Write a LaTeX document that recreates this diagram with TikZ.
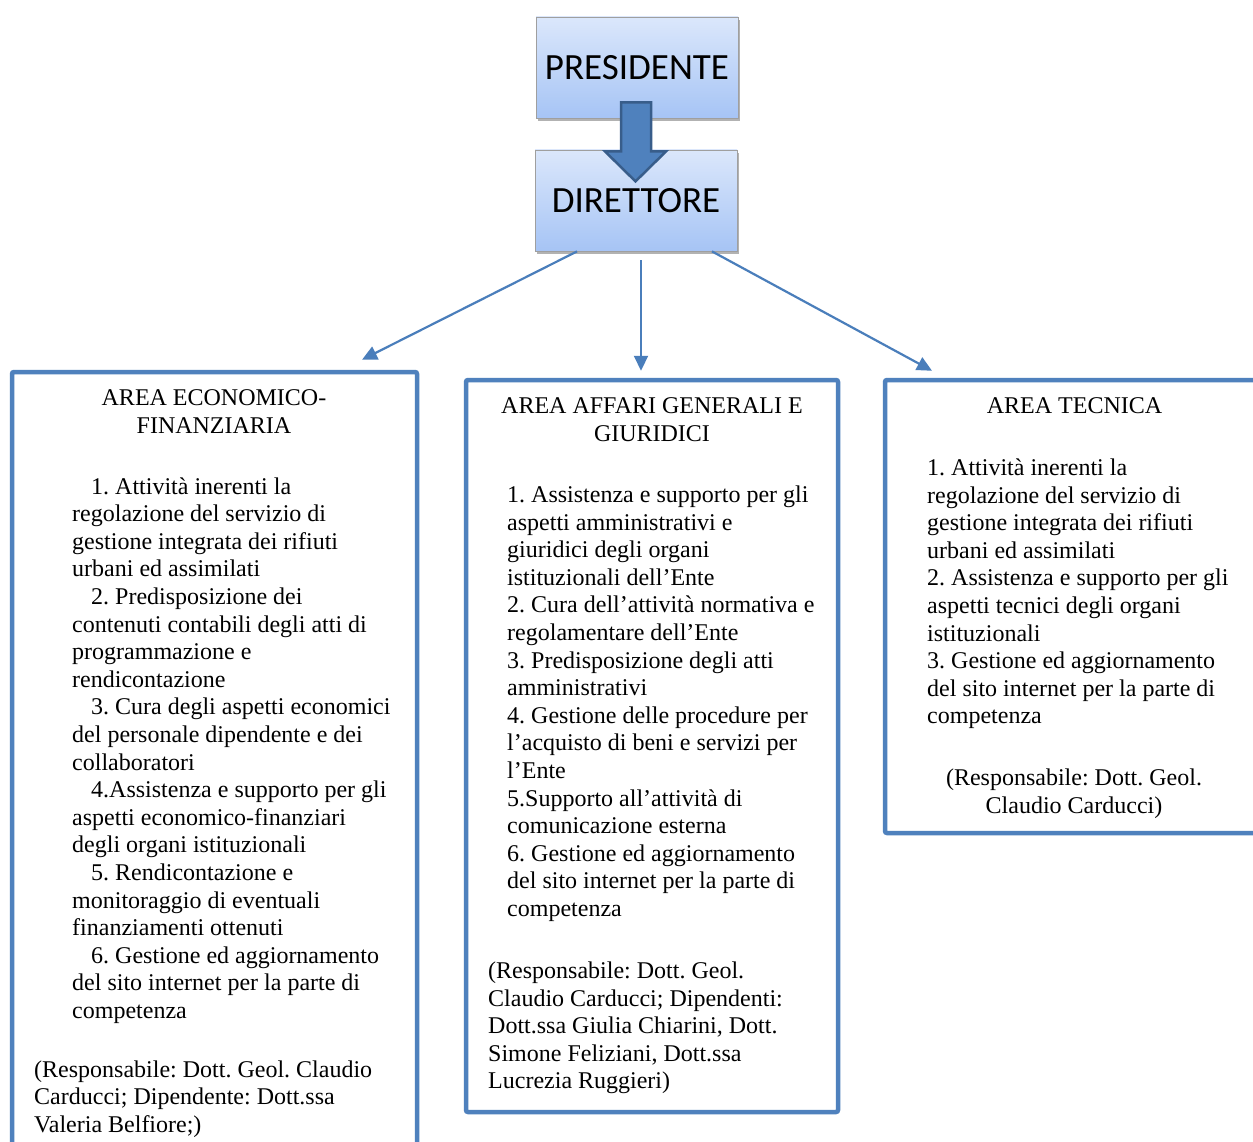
\documentclass[tikz,border=0pt]{standalone}
\usepackage{fontspec}
\setmainfont{Liberation Serif}
\newfontfamily\calib{Carlito}
\usetikzlibrary{arrows.meta,shadows,calc}
\definecolor{areablue}{RGB}{79,129,189}
\definecolor{linkblue}{RGB}{74,126,187}
\definecolor{arrowedge}{RGB}{56,93,138}
\definecolor{topc}{RGB}{219,231,251}
\definecolor{botc}{RGB}{166,196,245}
\frenchspacing
\newcommand{\llines}[1]{\begin{tabular}[t]{@{}l@{}}#1\end{tabular}}
\newcommand{\clines}[1]{\begin{tabular}[t]{@{}c@{}}#1\end{tabular}}
\begin{document}
\begin{tikzpicture}[x=1pt,y=-1pt,
  topbox/.style={draw=gray!75, line width=0.8pt, top color=topc, bottom color=botc,
    minimum width=202pt, minimum height=101pt, inner sep=0pt,
    font=\calib\fontsize{37}{40}\selectfont,
    drop shadow={shadow xshift=2pt,shadow yshift=-3pt,opacity=0.3,fill=black}},
  areabox/.style={draw=areablue, line width=4.5pt, rounded corners=2pt, inner sep=0pt},
  txt/.style={inner sep=0pt, font=\fontsize{24}{27.6}\selectfont\frenchspacing},
  link/.style={draw=linkblue, line width=2.2pt, -{Triangle[length=15pt,width=14pt]}},
  blockarrow/.style={fill=areablue, draw=arrowedge, line width=2.5pt, line join=miter}
]
\clip (0,0) rectangle (1253,1142);
\fill[white] (0,0) rectangle (1253,1142);

% top boxes
\node[topbox] (pres) at (637,67.5) {PRESIDENTE};
\node[topbox] (dir) at (636,200.5) {DIRETTORE};

% block arrow between them
\draw[blockarrow] ($(pres.south)+(-16,-16)$) -- ++(30,0) -- ++(0,49) -- ++(15,0)
  -- ++(-30.5,30) -- ++(-30.5,-30) -- ++(16,0) -- cycle;

% area boxes
\node[areabox, minimum width=405pt, minimum height=788pt] (eco) at (214.5,766) {};
\node[areabox, minimum width=372pt, minimum height=732pt] (aff) at (652,746) {};
\node[areabox, minimum width=380pt, minimum height=453pt] (tec) at (1075,606.5) {};

% connectors
\draw[link] ([xshift=-59pt]dir.south) -- ([xshift=147.5pt,yshift=10pt]eco.north);
\draw[link] ([xshift=5pt,yshift=-9pt]dir.south) -- ([xshift=-11pt,yshift=7pt]aff.north);
\draw[link] ([xshift=76pt]dir.south) -- ([xshift=-143pt,yshift=7pt]tec.north);

% left area texts
\node[txt, anchor=base] (ecot) at (214,405.5) {\clines{AREA ECONOMICO-\\FINANZIARIA}};
\node[txt, anchor=base west] (ecoi) at (72,494) {\llines{%
\hspace*{19pt}1. Attività inerenti la\\
regolazione del servizio di\\
gestione integrata dei rifiuti\\
urbani ed assimilati\\
\hspace*{19pt}2. Predisposizione dei\\
contenuti contabili degli atti di\\
programmazione e\\
rendicontazione\\
\hspace*{19pt}3. Cura degli aspetti economici\\
del personale dipendente e dei\\
collaboratori\\
\hspace*{19pt}4.Assistenza e supporto per gli\\
aspetti economico-finanziari\\
degli organi istituzionali\\
\hspace*{19pt}5. Rendicontazione e\\
monitoraggio di eventuali\\
finanziamenti ottenuti\\
\hspace*{19pt}6. Gestione ed aggiornamento\\
del sito internet per la parte di\\
competenza}};
\node[txt, anchor=base west] (ecor) at (34,1077) {\llines{%
(Responsabile: Dott. Geol. Claudio\\
Carducci; Dipendente: Dott.ssa\\
Valeria Belfiore;)}};

% middle area texts
\node[txt, anchor=base] (afft) at (652,413.5) {\clines{AREA AFFARI GENERALI E\\GIURIDICI}};
\node[txt, anchor=base west] (affi) at (507,502.5) {\llines{%
1. Assistenza e supporto per gli\\
aspetti amministrativi e\\
giuridici degli organi\\
istituzionali dell’Ente\\
2. Cura dell’attività normativa e\\
regolamentare dell’Ente\\
3. Predisposizione degli atti\\
amministrativi\\
4. Gestione delle procedure per\\
l’acquisto di beni e servizi per\\
l’Ente\\
5.Supporto all’attività di\\
comunicazione esterna\\
6. Gestione ed aggiornamento\\
del sito internet per la parte di\\
competenza}};
\node[txt, anchor=base west] (affr) at (488,978.5) {\llines{%
(Responsabile: Dott. Geol.\\
Claudio Carducci; Dipendenti:\\
Dott.ssa Giulia Chiarini, Dott.\\
Simone Feliziani, Dott.ssa\\
Lucrezia Ruggieri)}};

% right area texts
\node[txt, anchor=base] (tect) at (1074.5,413.5) {\clines{AREA TECNICA}};
\node[txt, anchor=base west] (teci) at (927,475.5) {\llines{%
1. Attività inerenti la\\
regolazione del servizio di\\
gestione integrata dei rifiuti\\
urbani ed assimilati\\
2. Assistenza e supporto per gli\\
aspetti tecnici degli organi\\
istituzionali\\
3. Gestione ed aggiornamento\\
del sito internet per la parte di\\
competenza}};
\node[txt, anchor=base] (tecr) at (1074,785.5) {\clines{%
(Responsabile: Dott. Geol.\\
Claudio Carducci)}};
\end{tikzpicture}
\end{document}
